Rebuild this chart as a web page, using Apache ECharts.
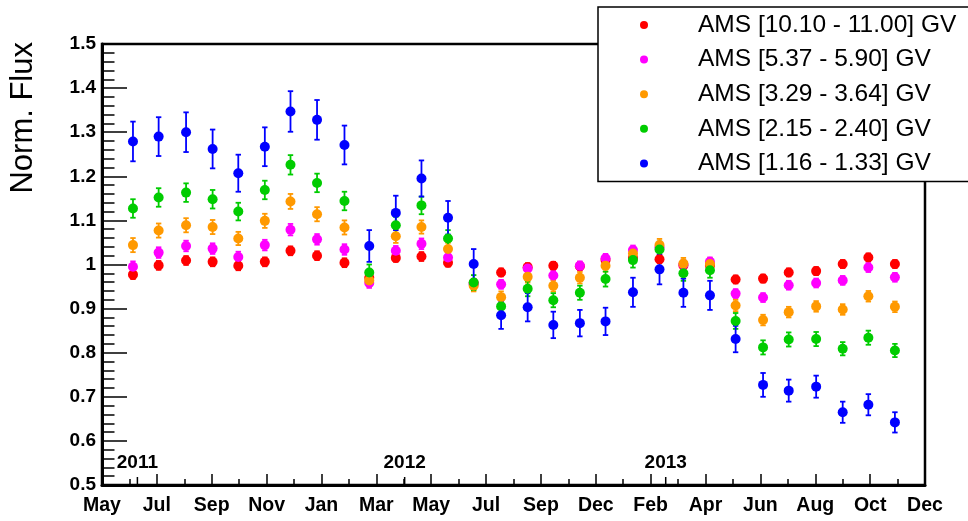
<!DOCTYPE html>
<html>
<head>
<meta charset="utf-8">
<script src="https://cdn.jsdelivr.net/npm/echarts@6/dist/echarts.min.js"></script>
<style>
  html, body { margin: 0; padding: 0; background: #fff; }
  #chart { width: 968px; height: 521px; }
</style>
</head>
<body>
<div id="chart"></div>
<script>
// Time axis: days counted from 2011-05-23, one major tick every 62 days
const tickStep = 62;
const axisEnd = 930;
const monthLabels = ['May', 'Jul', 'Sep', 'Nov', 'Jan', 'Mar', 'May', 'Jul', 'Sep', 'Dec',
                     'Feb', 'Apr', 'Jun', 'Aug', 'Oct', 'Dec'];
const yearLabels = ['2011', '2012', '2013'];
const yearDays = [40, 342, 637];

// Centre of each averaging period (days from axis start)
const days = [35, 64, 95, 125, 154, 184, 213, 243, 274, 302,
              332, 361, 391, 420, 451, 481, 510, 540, 569, 600,
              630, 657, 687, 716, 747, 776, 807, 837, 866, 896];

// Normalised flux per rigidity bin
const flux_10_10 = [0.977, 0.998, 1.009, 1.006, 0.997, 1.006, 1.031, 1.020, 1.004, 0.970,
                    1.015, 1.018, 1.004, 0.958, 0.982, 0.994, 0.997, 0.996, 1.010, 1.015,
                    1.012, 0.998, 0.998, 0.966, 0.968, 0.982, 0.985, 1.001, 1.016, 1.001];
const err_10_10  = [0.010, 0.010, 0.010, 0.010, 0.010, 0.010, 0.010, 0.010, 0.010, 0.009,
                    0.009, 0.010, 0.009, 0.009, 0.009, 0.009, 0.009, 0.009, 0.009, 0.009,
                    0.009, 0.009, 0.009, 0.009, 0.009, 0.009, 0.009, 0.009, 0.009, 0.009];

const flux_5_37  = [0.995, 1.027, 1.042, 1.036, 1.017, 1.044, 1.079, 1.057, 1.034, 0.958,
                    1.031, 1.047, 1.016, 0.955, 0.955, 0.991, 0.975, 0.997, 1.014, 1.033,
                    1.039, 1.000, 1.006, 0.934, 0.925, 0.953, 0.958, 0.964, 0.993, 0.971];
const err_5_37   = [0.012, 0.012, 0.012, 0.012, 0.012, 0.012, 0.013, 0.012, 0.012, 0.011,
                    0.011, 0.012, 0.011, 0.010, 0.010, 0.010, 0.010, 0.010, 0.010, 0.010,
                    0.011, 0.010, 0.010, 0.010, 0.010, 0.010, 0.010, 0.010, 0.010, 0.010];

const flux_3_29  = [1.044, 1.077, 1.089, 1.085, 1.059, 1.099, 1.143, 1.114, 1.084, 0.964,
                    1.064, 1.085, 1.035, 0.952, 0.926, 0.972, 0.952, 0.970, 0.997, 1.025,
                    1.044, 1.002, 1.001, 0.907, 0.874, 0.892, 0.905, 0.898, 0.928, 0.904];
const err_3_29   = [0.016, 0.016, 0.016, 0.016, 0.015, 0.016, 0.017, 0.016, 0.016, 0.014,
                    0.015, 0.015, 0.014, 0.013, 0.013, 0.013, 0.013, 0.013, 0.013, 0.013,
                    0.014, 0.013, 0.013, 0.013, 0.012, 0.012, 0.012, 0.012, 0.012, 0.012];

const flux_2_15  = [1.127, 1.152, 1.163, 1.148, 1.120, 1.169, 1.226, 1.185, 1.144, 0.982,
                    1.089, 1.134, 1.059, 0.959, 0.905, 0.945, 0.919, 0.936, 0.967, 1.010,
                    1.034, 0.980, 0.987, 0.872, 0.812, 0.830, 0.831, 0.809, 0.834, 0.805];
const err_2_15   = [0.021, 0.021, 0.021, 0.021, 0.020, 0.021, 0.022, 0.021, 0.021, 0.018,
                    0.019, 0.020, 0.019, 0.017, 0.017, 0.017, 0.016, 0.016, 0.017, 0.017,
                    0.018, 0.017, 0.017, 0.018, 0.016, 0.016, 0.016, 0.015, 0.016, 0.015];

const flux_1_16  = [1.279, 1.290, 1.300, 1.262, 1.207, 1.267, 1.347, 1.328, 1.271, 1.042,
                    1.117, 1.195, 1.106, 1.001, 0.885, 0.903, 0.863, 0.867, 0.871, 0.937,
                    0.989, 0.936, 0.930, 0.831, 0.727, 0.714, 0.723, 0.665, 0.682, 0.642];
const err_1_16   = [0.045, 0.044, 0.045, 0.044, 0.042, 0.044, 0.046, 0.045, 0.044, 0.036,
                    0.039, 0.041, 0.038, 0.034, 0.031, 0.032, 0.030, 0.030, 0.031, 0.033,
                    0.034, 0.032, 0.033, 0.030, 0.027, 0.025, 0.025, 0.024, 0.024, 0.023];

const seriesDefs = [
  { name: 'AMS [10.10 - 11.00] GV', color: '#ff0000', vals: flux_10_10, errs: err_10_10 },
  { name: 'AMS [5.37 - 5.90] GV',   color: '#ff00ff', vals: flux_5_37,  errs: err_5_37 },
  { name: 'AMS [3.29 - 3.64] GV',   color: '#ff9900', vals: flux_3_29,  errs: err_3_29 },
  { name: 'AMS [2.15 - 2.40] GV',   color: '#00cc00', vals: flux_2_15,  errs: err_2_15 },
  { name: 'AMS [1.16 - 1.33] GV',   color: '#0000ff', vals: flux_1_16,  errs: err_1_16 }
];

const FONT = '"Liberation Sans", Arial, Helvetica, sans-serif';

function errorBarRenderer(color) {
  return function (params, api) {
    const x = api.value(0), y = api.value(1), e = api.value(2);
    const hi = api.coord([x, y + e]);
    const lo = api.coord([x, y - e]);
    const hw = 2.7;
    const st = { stroke: color, lineWidth: 1.8 };
    return {
      type: 'group',
      children: [
        { type: 'line', shape: { x1: hi[0], y1: hi[1], x2: lo[0], y2: lo[1] }, style: st },
        { type: 'line', shape: { x1: hi[0] - hw, y1: hi[1], x2: hi[0] + hw, y2: hi[1] }, style: st },
        { type: 'line', shape: { x1: lo[0] - hw, y1: lo[1], x2: lo[0] + hw, y2: lo[1] }, style: st }
      ]
    };
  };
}

const series = [];
seriesDefs.forEach(function (s) {
  series.push({
    type: 'scatter',
    name: s.name,
    symbol: 'circle',
    symbolSize: 10,
    itemStyle: { color: s.color, opacity: 1 },
    emphasis: { disabled: true },
    data: days.map(function (d, i) { return [d, s.vals[i]]; })
  });
  series.push({
    type: 'custom',
    name: s.name,
    renderItem: errorBarRenderer(s.color),
    encode: { x: 0, y: 1 },
    silent: true,
    data: days.map(function (d, i) { return [d, s.vals[i], s.errs[i]]; })
  });
});

// Year markers sitting on the time axis
series.push({
  type: 'custom',
  name: 'years',
  silent: true,
  z: 5,
  renderItem: function (params, api) {
    const x = api.value(0);
    const idx = api.value(1);
    const p = api.coord([x, 0.5]);
    return {
      type: 'group',
      children: [
        { type: 'line', shape: { x1: p[0], y1: p[1], x2: p[0], y2: p[1] - 8 },
          style: { stroke: '#000', lineWidth: 1.5 } },
        { type: 'text', x: p[0], y: p[1] - 22.5,
          style: { text: yearLabels[idx], font: 'bold 19px ' + FONT, fill: '#000',
                   align: 'center', verticalAlign: 'middle' } }
      ]
    };
  },
  encode: { x: 0, y: 1 },
  data: yearDays.map(function (d, i) { return [d, i]; })
});

const chart = echarts.init(document.getElementById('chart'), null, { renderer: 'canvas' });
chart.setOption({
  animation: false,
  backgroundColor: '#fff',
  textStyle: { fontFamily: FONT },
  grid: {
    left: 102, right: 43, top: 44, bottom: 36,
    show: true, borderColor: '#000', borderWidth: 2.5, backgroundColor: 'transparent'
  },
  legend: {
    data: seriesDefs.map(function (s) { return s.name; }),
    orient: 'vertical',
    left: 598, top: 7,
    padding: [4, 20, 4, 42],
    itemGap: 6.6,
    itemWidth: 8, itemHeight: 8,
    icon: 'circle',
    backgroundColor: '#fff',
    borderColor: '#000',
    borderWidth: 1.5,
    selectedMode: false,
    textStyle: { fontFamily: FONT, fontSize: 24.5, lineHeight: 28, color: '#000', padding: [0, 0, 0, 45] }
  },
  graphic: [{
    type: 'text',
    x: 23, y: 42,
    rotation: Math.PI / 2,
    style: { text: 'Norm. Flux', font: '31px ' + FONT, fill: '#000', align: 'right', verticalAlign: 'middle' }
  }],
  xAxis: {
    type: 'value',
    min: 0, max: axisEnd, interval: tickStep,
    axisLine: { show: true, onZero: false, lineStyle: { color: '#000', width: 3 } },
    axisTick: { show: true, inside: true, length: 11, lineStyle: { color: '#000', width: 1.5 } },
    minorTick: { show: true, splitNumber: 2, length: 6, lineStyle: { color: '#000', width: 1.5 } },
    splitLine: { show: false },
    axisLabel: {
      show: true, margin: 11, interval: 0, hideOverlap: false,
      showMinLabel: true, showMaxLabel: true,
      fontFamily: FONT, fontWeight: 'bold', fontSize: 19.5, color: '#000',
      formatter: function (v) { return monthLabels[Math.round(v / tickStep)] || ''; }
    }
  },
  yAxis: {
    type: 'value',
    min: 0.5, max: 1.5, interval: 0.1,
    axisLine: { show: true, lineStyle: { color: '#000', width: 3 } },
    axisTick: { show: true, inside: true, length: 25, lineStyle: { color: '#000', width: 1.5 } },
    minorTick: { show: true, splitNumber: 5, length: 12.5, lineStyle: { color: '#000', width: 1.5 } },
    splitLine: { show: false },
    axisLabel: {
      show: true, margin: 6,
      fontFamily: FONT, fontWeight: 'bold', fontSize: 19, color: '#000',
      formatter: function (v) { return String(+v.toFixed(1)); }
    }
  },
  series: series
});
</script>
</body>
</html>
